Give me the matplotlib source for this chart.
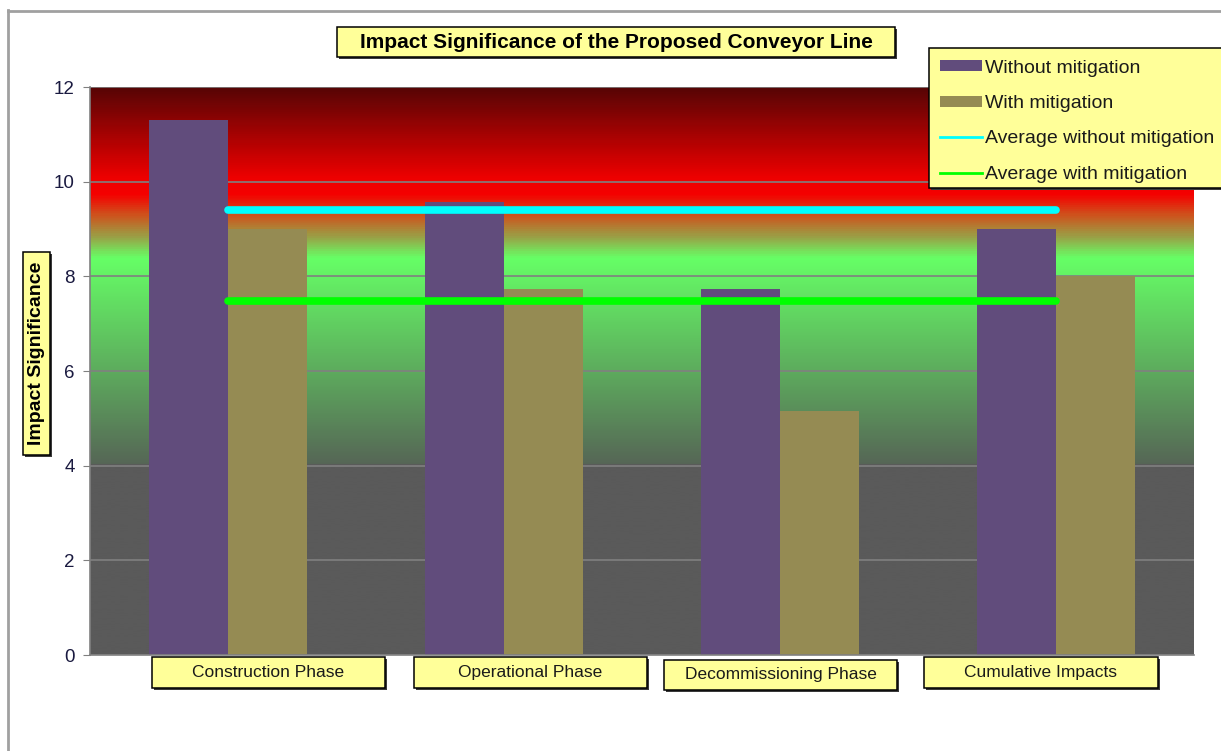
import numpy as np
import matplotlib
matplotlib.use("Agg")
import matplotlib.pyplot as plt
from matplotlib.colors import LinearSegmentedColormap
from matplotlib.patches import Rectangle, Patch
from matplotlib.lines import Line2D

plt.rcParams['font.family'] = ['Liberation Sans', 'DejaVu Sans']

# impact scores per project phase
phases = ["Construction Phase", "Operational Phase", "Decommissioning Phase", "Cumulative Impacts"]
without_mit = [11.3, 9.57, 7.74, 9.0]
with_mit = [9.0, 7.74, 5.16, 8.0]
y_ticks = [0, 2, 4, 6, 8, 10, 12]
legend_labels = ["Without mitigation", "With mitigation",
                 "Average without mitigation", "Average with mitigation"]

PURPLE = '#614c7c'
KHAKI = '#958b53'
BOX = '#ffff99'

W, H = 1221, 751
fig = plt.figure(figsize=(W / 100, H / 100), dpi=100)
ax = fig.add_axes([90 / W, 1 - 655 / H, (1194 - 90) / W, (655 - 87) / H])


def px_rect(x0, y0, x1, y1, **kw):
    # rectangle given in pixel coords, origin top-left
    return Rectangle((x0 / W, 1 - y1 / H), (x1 - x0) / W, (y1 - y0) / H,
                     transform=fig.transFigure, **kw)


def label_box(x0, y0, x1, y1):
    fig.patches.append(px_rect(x0 + 2, y0 + 2, x1 + 2, y1 + 2, facecolor='#3a3a3a', edgecolor='none'))
    fig.patches.append(px_rect(x0, y0, x1, y1, facecolor=BOX, edgecolor='black', lw=1.1))


# background gradient: grey -> green -> red -> dark red
stops = [(0, '#5a5a5a'), (4.0, '#5a5a5a'), (4.02, '#566656'), (8.4, '#66ff66'),
         (8.85, '#9aa046'), (9.3, '#cd551e'), (9.75, '#f50000'), (10.1, '#ee0000'),
         (12, '#580505')]
cmap = LinearSegmentedColormap.from_list('bg', [(v / 12, c) for v, c in stops])
grad = np.linspace(0, 12, 800).reshape(-1, 1)
ax.imshow(grad, cmap=cmap, extent=[-0.5, 3.5, 0, 12], origin='lower', aspect='auto',
          vmin=0, vmax=12, zorder=0, interpolation='bilinear')

x = np.arange(len(phases))
bw = 0.286
ax.bar(x - bw / 2, without_mit, bw, color=PURPLE, zorder=2)
ax.bar(x + bw / 2, with_mit, bw, color=KHAKI, zorder=2)

avg_without = np.mean(without_mit)
avg_with = np.mean(with_mit)
ax.plot([x[0], x[-1]], [avg_without] * 2, color='#00ffff', lw=5.5, solid_capstyle='round', zorder=3)
ax.plot([x[0], x[-1]], [avg_with] * 2, color='#00ff00', lw=5.5, solid_capstyle='round', zorder=3)

ax.set_xlim(-0.5, 3.5)
ax.set_ylim(0, 12)
ax.set_yticks(y_ticks)
ax.set_xticks([])
ax.set_axisbelow(True)
ax.yaxis.grid(True, color='#808080', lw=1.2)
for s in ['top', 'right']:
    ax.spines[s].set_visible(False)
for s in ['left', 'bottom']:
    ax.spines[s].set_color('#808080')
    ax.spines[s].set_linewidth(1.2)
ax.tick_params(axis='y', length=5, color='#808080', labelsize=13.5, labelcolor='#1a1a40', pad=6)

# outer frame lines
fig.add_artist(Line2D([8 / W, 8 / W], [0, 1 - 10 / H], transform=fig.transFigure, color='#a0a0a0', lw=2))
fig.add_artist(Line2D([8 / W, 1], [1 - 11 / H] * 2, transform=fig.transFigure, color='#a0a0a0', lw=2))

# title
label_box(337, 27, 895, 57)
fig.text(616 / W, 1 - 42 / H, "Impact Significance of the Proposed Conveyor Line",
         ha='center', va='center', fontsize=15, fontweight='bold', color='black', zorder=5)

# y axis label
label_box(23, 252, 50, 455)
fig.text(36.5 / W, 1 - 353.5 / H, "Impact Significance", rotation=90,
         ha='center', va='center', fontsize=14, fontweight='bold', color='black', zorder=5)

# category labels
cat_boxes = [(152, 657, 385, 688), (414, 657, 647, 688), (664, 660, 897, 690), (924, 657, 1158, 688)]
for name, (x0, y0, x1, y1) in zip(phases, cat_boxes):
    label_box(x0, y0, x1, y1)
    fig.text((x0 + x1) / 2 / W, 1 - (y0 + y1) / 2 / H, name, ha='center', va='center',
             fontsize=12.5, color='#1a1a1a', zorder=5)

# legend
label_box(929, 48, 1240, 188)
handles = [Patch(facecolor=PURPLE), Patch(facecolor=KHAKI),
           Line2D([], [], color='#00ffff', lw=2), Line2D([], [], color='#00ff00', lw=2)]
leg = fig.legend(handles, legend_labels, loc='upper left', bbox_to_anchor=(924 / W, 1 - 44 / H),
                 frameon=False, fontsize=14, handlelength=2.2, handleheight=0.5,
                 handletextpad=0.15, labelspacing=0.95, borderpad=0.3)
for t in leg.get_texts():
    t.set_color('#1a1a1a')

fig.savefig('out.png', dpi=100)
